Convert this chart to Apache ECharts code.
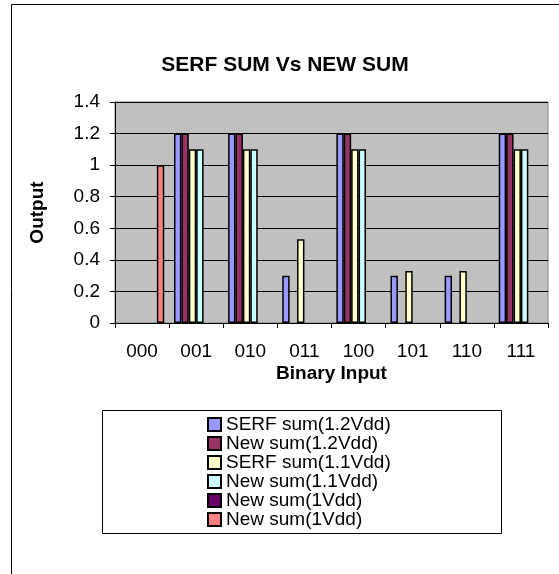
<!DOCTYPE html>
<html>
<head>
<meta charset="utf-8">
<script src="https://cdn.jsdelivr.net/npm/echarts@6/dist/echarts.min.js"></script>
<style>
html, body { margin: 0; padding: 0; background: #fff; }
#chart { width: 559px; height: 574px; }
</style>
</head>
<body>
<div id="chart"></div>
<script>
// values, '-' = no bar
var categories = ['000', '001', '010', '011', '100', '101', '110', '111']
var serf12 = ['-', 1.2, 1.2, 0.3, 1.2, 0.3, 0.3, 1.2]
var new12 = ['-', 1.2, 1.2, '-', 1.2, '-', '-', 1.2]
var serf11 = ['-', 1.1, 1.1, 0.53, 1.1, 0.33, 0.33, 1.1]
var new11 = ['-', 1.1, 1.1, '-', 1.1, '-', '-', 1.1]
var new1a = ['-', '-', '-', '-', '-', '-', '-', '-']
var new1b = [1, '-', '-', '-', '-', '-', '-', '-']
var yTicks = { min: 0, max: 1.4, interval: 0.2 }

var seriesDefs = [
    { name: 'SERF sum(1.2Vdd)', color: '#9999FF', data: serf12 },
    { name: 'New sum(1.2Vdd)', color: '#993366', data: new12 },
    { name: 'SERF sum(1.1Vdd)', color: '#FFFFCC', data: serf11 },
    { name: 'New sum(1.1Vdd)', color: '#CCFFFF', data: new11 },
    { name: 'New sum(1Vdd)', color: '#660066', data: new1a },
    // same label twice in the source, trailing space keeps the legend entries apart
    { name: 'New sum(1Vdd) ', color: '#FF8080', data: new1b }
]

var font = 'Arial, "Liberation Sans", sans-serif'

var chart = echarts.init(document.getElementById('chart'))
chart.setOption({
    animation: false,
    backgroundColor: '#fff',
    textStyle: { fontFamily: font },
    title: {
        text: 'SERF SUM Vs NEW SUM',
        left: 280,
        top: 50,
        textAlign: 'center',
        textStyle: { fontSize: 21, fontWeight: 'bold', color: '#000', fontFamily: font }
    },
    graphic: [
        {
            type: 'rect',
            shape: { x: 11.5, y: 4.5, width: 600, height: 600 },
            style: { fill: 'none', stroke: '#000', lineWidth: 1 },
            z: -1
        },
        {
            type: 'rect',
            shape: { x: 102.5, y: 410.5, width: 399, height: 123 },
            style: { fill: '#fff', stroke: '#000', lineWidth: 1 },
            z: -1
        }
    ],
    legend: {
        orient: 'vertical',
        left: 207,
        top: 415,
        itemWidth: 13,
        itemHeight: 13,
        itemGap: 0,
        icon: 'rect',
        padding: 0,
        selectedMode: false,
        textStyle: { fontSize: 19, lineHeight: 19, color: '#000', fontFamily: font },
        data: seriesDefs.map(function(s) { return s.name }),
        formatter: function(n) { return n.trim() }
    },
    grid: {
        left: 115,
        top: 102,
        width: 433,
        height: 221,
        show: true,
        backgroundColor: '#C0C0C0',
        borderColor: '#808080',
        borderWidth: 1
    },
    xAxis: {
        type: 'category',
        data: categories,
        name: 'Binary Input',
        nameLocation: 'middle',
        nameGap: 41,
        nameTextStyle: { fontSize: 19, fontWeight: 'bold', color: '#000', fontFamily: font },
        axisLine: { lineStyle: { color: '#000', width: 1 } },
        axisTick: { show: true, length: 5, lineStyle: { color: '#000' } },
        axisLabel: { fontSize: 19, color: '#000', margin: 19, fontFamily: font },
        splitLine: { show: false }
    },
    yAxis: {
        type: 'value',
        min: yTicks.min,
        max: yTicks.max,
        interval: yTicks.interval,
        name: 'Output',
        nameLocation: 'middle',
        nameGap: 68,
        nameRotate: 90,
        nameTextStyle: { fontSize: 19, fontWeight: 'bold', color: '#000', fontFamily: font },
        axisLine: { show: true, lineStyle: { color: '#000', width: 1 } },
        axisTick: { show: true, length: 5, lineStyle: { color: '#000' } },
        axisLabel: { fontSize: 19, color: '#000', margin: 15, fontFamily: font },
        splitLine: { show: true, lineStyle: { color: '#000', width: 1 } }
    },
    series: seriesDefs.map(function(s) {
        return {
            name: s.name,
            type: 'bar',
            data: s.data,
            barGap: '0%',
            barCategoryGap: '18%',
            itemStyle: { color: s.color, borderColor: '#000', borderWidth: 1.5 }
        }
    })
})
</script>
</body>
</html>
